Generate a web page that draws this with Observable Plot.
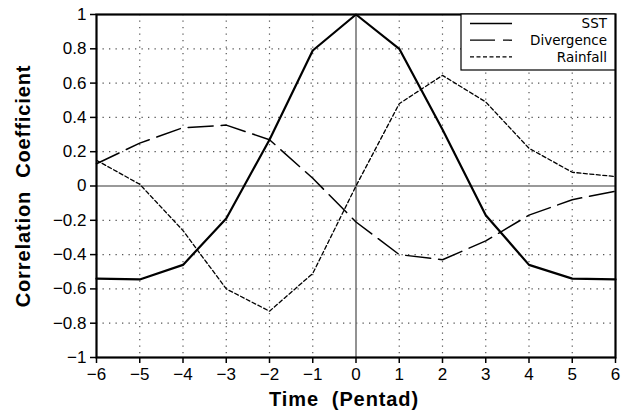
<!DOCTYPE html>
<html><head><meta charset="utf-8">
<script src="https://cdn.jsdelivr.net/npm/d3@7"></script>
<script src="https://cdn.jsdelivr.net/npm/@observablehq/plot@0.6"></script>
<style>body{margin:0;background:#fff}</style>
</head><body><div id="chart"></div>
<script>
const lags = [-6, -5, -4, -3, -2, -1, 0, 1, 2, 3, 4, 5, 6];
const sst = [-0.54, -0.545, -0.46, -0.19, 0.27, 0.79, 1.0, 0.80, 0.33, -0.17, -0.46, -0.54, -0.545];
const divergence = [0.13, 0.25, 0.34, 0.355, 0.27, 0.045, -0.21, -0.40, -0.43, -0.32, -0.17, -0.08, -0.03];
const rainfall = [0.15, 0.01, -0.26, -0.60, -0.73, -0.51, 0.0, 0.48, 0.645, 0.49, 0.22, 0.08, 0.055];
const seriesNames = ["SST", "Divergence", "Rainfall"];
const xTicks = [-6, -5, -4, -3, -2, -1, 0, 1, 2, 3, 4, 5, 6];
const yTicks = [-1, -0.8, -0.6, -0.4, -0.2, 0, 0.2, 0.4, 0.6, 0.8, 1];
const xTitle = "Time\u00a0\u00a0(Pentad)";
const yTitle = "Correlation\u00a0\u00a0Coefficient";

const styles = {
  SST: {strokeWidth: 2.2, dash: null},
  Divergence: {strokeWidth: 1.5, dash: "25,8"},
  Rainfall: {strokeWidth: 1.3, dash: "4,2.5"}
};
const seriesValues = [sst, divergence, rainfall];
const rows = seriesNames.map((name, i) => lags.map((x, j) => ({series: name, x, y: seriesValues[i][j]})));

const fmt = d3.format("~g");
const tickFont = "Liberation Sans, Arial, sans-serif";

const plot = Plot.plot({
  width: 625,
  height: 415,
  marginLeft: 96,
  marginRight: 10,
  marginTop: 14,
  marginBottom: 58,
  style: {fontFamily: tickFont, background: "#fff", overflow: "visible"},
  x: {domain: [-6, 6]},
  y: {domain: [-1, 1]},
  marks: [
    Plot.gridX(xTicks.slice(1, -1).filter(d => d !== 0), {stroke: "#555", strokeOpacity: 1, strokeDasharray: "1.3,5.2", strokeWidth: 1.2}),
    Plot.gridY(yTicks.slice(1, -1).filter(d => d !== 0), {stroke: "#555", strokeOpacity: 1, strokeDasharray: "1.3,5.2", strokeWidth: 1.2}),
    Plot.ruleX([0], {stroke: "#777", strokeWidth: 1.6}),
    Plot.ruleY([0], {stroke: "#777", strokeWidth: 1.6}),
    ...rows.map((r, i) => Plot.line(r, {
      x: "x", y: "y", stroke: "#000",
      strokeWidth: styles[seriesNames[i]].strokeWidth,
      strokeDasharray: styles[seriesNames[i]].dash,
      strokeLinejoin: "miter"
    })),
    Plot.axisX({ticks: xTicks, tickFormat: fmt, tickSize: 6, tickPadding: 4, fontSize: 17, stroke: "#000", strokeWidth: 1.5, label: null}),
    Plot.axisY({ticks: yTicks, tickFormat: fmt, tickSize: 6, tickPadding: 4, fontSize: 17, stroke: "#000", strokeWidth: 1.5, label: null}),
    Plot.frame({stroke: "#000", strokeWidth: 2.2}),
    Plot.text([xTitle], {frameAnchor: "bottom", dy: 48, dx: -12, fontSize: 20, fontWeight: "bold", fill: "#000"}),
    Plot.text([yTitle], {frameAnchor: "left", textAnchor: "middle", rotate: -90, dx: -73, fontSize: 20, fontWeight: "bold", fill: "#000"})
  ]
});

document.getElementById("chart").appendChild(plot);

const svg = d3.select(plot);
svg.selectAll("text").filter(function() { return this.textContent === xTitle || this.textContent === yTitle; })
  .style("letter-spacing", "0.9px");

const lg = svg.append("g").attr("transform", "translate(461,14)");
lg.append("rect").attr("width", 154).attr("height", 56).attr("fill", "#fff").attr("stroke", "#000").attr("stroke-width", 1.2);
seriesNames.forEach((name, i) => {
  const yy = 9.5 + i * 16.7;
  lg.append("line").attr("x1", 9).attr("x2", 51).attr("y1", yy).attr("y2", yy)
    .attr("stroke", "#000").attr("stroke-width", 1.3)
    .attr("stroke-dasharray", styles[name].dash);
  lg.append("text").attr("x", 146).attr("y", yy).attr("dy", "0.36em")
    .attr("text-anchor", "end").attr("font-family", "DejaVu Sans, sans-serif").attr("font-size", 13.5)
    .attr("fill", "#000").text(name);
});
</script>
</body></html>
